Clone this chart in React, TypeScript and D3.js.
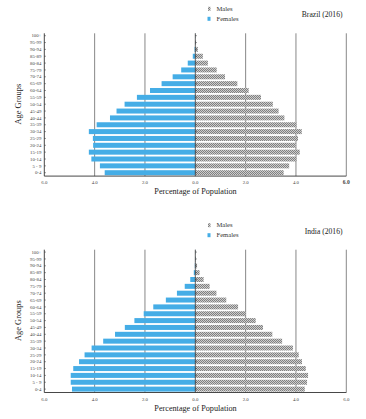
import * as d3 from "d3";

// age groups from youngest to oldest
const ageGroups = [
  "0-4", "5 - 9", "10-14", "15-19", "20-24", "25-29", "30-34", "35-39", "40-44",
  "45-49", "50-54", "55-59", "60-64", "65-69", "70-74", "75-79", "80-84",
  "85-89", "90-94", "95-99", "100+",
];

const brazilFemales = [
  3.6, 3.79, 4.13, 4.23, 4.06, 4.07, 4.23, 3.92, 3.39, 3.13, 2.81, 2.32, 1.8,
  1.34, 0.9, 0.56, 0.3, 0.1, 0.03, 0.01, 0.005,
];
const brazilMales = [
  3.51, 3.73, 4.02, 4.15, 3.99, 4.08, 4.23, 4.02, 3.54, 3.31, 3.08, 2.61, 2.12,
  1.67, 1.18, 0.85, 0.5, 0.3, 0.1, 0.03, 0.01,
];

const indiaFemales = [
  4.9, 4.95, 4.95, 4.85, 4.62, 4.4, 4.12, 3.66, 3.19, 2.8, 2.42, 2.05, 1.67,
  1.17, 0.73, 0.42, 0.2, 0.06, 0.02, 0.01, 0.005,
];
const indiaMales = [
  4.35, 4.44, 4.48, 4.39, 4.24, 4.11, 3.88, 3.45, 3.06, 2.69, 2.4, 2.0, 1.7,
  1.23, 0.84, 0.57, 0.33, 0.17, 0.07, 0.02, 0.01,
];

const xTicks = [-6, -4, -2, 0, 2, 4, 6];

const serif = "'Liberation Serif', 'DejaVu Serif', serif";
const blue = "#45ade6";

const x = d3.scaleLinear().domain([-6, 6]).range([44.3, 346.3]);

function Pyramid({ top, title, females, males, boldSix }) {
  // top = y of the band range start
  const y = d3
    .scaleBand()
    .domain([...ageGroups].reverse())
    .range([top, top + 143.8])
    .paddingInner(0.27)
    .paddingOuter(0.13);
  const [y0, y1] = y.range();
  const legendY = top - 22;

  return (
    <g>
      {/* grid lines */}
      {xTicks
        .filter((t) => t !== 0 && t !== -6)
        .map((t) => (
          <line key={t} x1={x(t)} x2={x(t)} y1={y0 + 1} y2={y1} stroke="#6a6a6a" strokeWidth={0.8} />
        ))}

      {ageGroups.map((g, i) => (
        <g key={g}>
          <rect
            x={x(-females[i])}
            y={y(g)}
            width={x(0) - x(-females[i])}
            height={y.bandwidth()}
            fill={blue}
          />
          <rect
            x={x(0)}
            y={y(g)}
            width={x(males[i]) - x(0)}
            height={y.bandwidth()}
            fill="url(#hatch)"
          />
        </g>
      ))}

      {/* left axis */}
      <line x1={x(-6)} x2={x(-6)} y1={y0 + 1} y2={y1} stroke="#333" strokeWidth={0.9} />
      {/* bottom axis */}
      <line x1={x(-6)} x2={x(6)} y1={y1} y2={y1} stroke="#333" strokeWidth={0.9} />
      {/* center axis */}
      <line x1={x(0)} x2={x(0)} y1={y0 + 1} y2={y1} stroke="#333" strokeWidth={0.8} />
      {ageGroups.map((g) => (
        <g key={"t" + g}>
          <line
            x1={x(-6)}
            x2={x(-6) + 1.5}
            y1={y(g) + y.bandwidth() / 2}
            y2={y(g) + y.bandwidth() / 2}
            stroke="#333"
            strokeWidth={0.6}
          />
          <line
            x1={x(0)}
            x2={x(0) + 1.5}
            y1={y(g) + y.bandwidth() / 2}
            y2={y(g) + y.bandwidth() / 2}
            stroke="#333"
            strokeWidth={0.6}
          />
          <text
            x={x(-6) - 3}
            y={y(g) + y.bandwidth() / 2 + 1.7}
            textAnchor="end"
            fontSize={4.8}
            fontFamily={serif}
            fill="#444"
          >
            {g}
          </text>
        </g>
      ))}

      {xTicks.map((t) => (
        <text
          key={"x" + t}
          x={x(t)}
          y={y1 + 8}
          textAnchor="middle"
          fontSize={t === 6 && boldSix ? 5.5 : 4.8}
          fontFamily={serif}
          fill="#444"
          fontWeight={t === 6 && boldSix ? "bold" : "normal"}
        >
          {Math.abs(t).toFixed(1)}
        </text>
      ))}

      <text
        x={195.5}
        y={y1 + 18}
        textAnchor="middle"
        fontSize={8.2}
        fontFamily={serif}
        fill="#222"
      >
        Percentage of Population
      </text>
      <text
        transform={`translate(21,${(y0 + y1) / 2}) rotate(-90)`}
        textAnchor="middle"
        fontSize={8.4}
        fontFamily={serif}
        fill="#1a1a1a"
      >
        Age Groups
      </text>

      {/* legend */}
      <rect x={208} y={legendY - 3.5} width={2.5} height={4} fill="url(#hatch)" />
      <text x={216.5} y={legendY + 0.5} fontSize={6.6} fontFamily={serif} fill="#333">
        Males
      </text>
      <rect x={207.5} y={legendY + 6.5} width={3} height={4} fill={blue} />
      <text x={216.5} y={legendY + 10.5} fontSize={6.6} fontFamily={serif} fill="#333">
        Females
      </text>

      <text
        x={342.5}
        y={legendY + 7}
        textAnchor="end"
        fontSize={7.6}
        fontFamily={serif}
        fill="#222"
      >
        {title}
      </text>
    </g>
  );
}

export default function App() {
  return (
    <svg width={366} height={419} style={{ position: "absolute", left: 0, top: 0, background: "#fff" }}>
      <defs>
        <pattern id="hatch" width={2} height={2} patternUnits="userSpaceOnUse">
          <rect width={2} height={2} fill="#cdcdcd" />
          <rect width={1} height={1} fill="#808080" />
          <rect x={1} y={1} width={1} height={1} fill="#808080" />
        </pattern>
      </defs>
      <Pyramid top={32.3} title="Brazil (2016)" females={brazilFemales} males={brazilMales} boldSix />
      <Pyramid top={248.7} title="India (2016)" females={indiaFemales} males={indiaMales} boldSix={false} />
    </svg>
  );
}
